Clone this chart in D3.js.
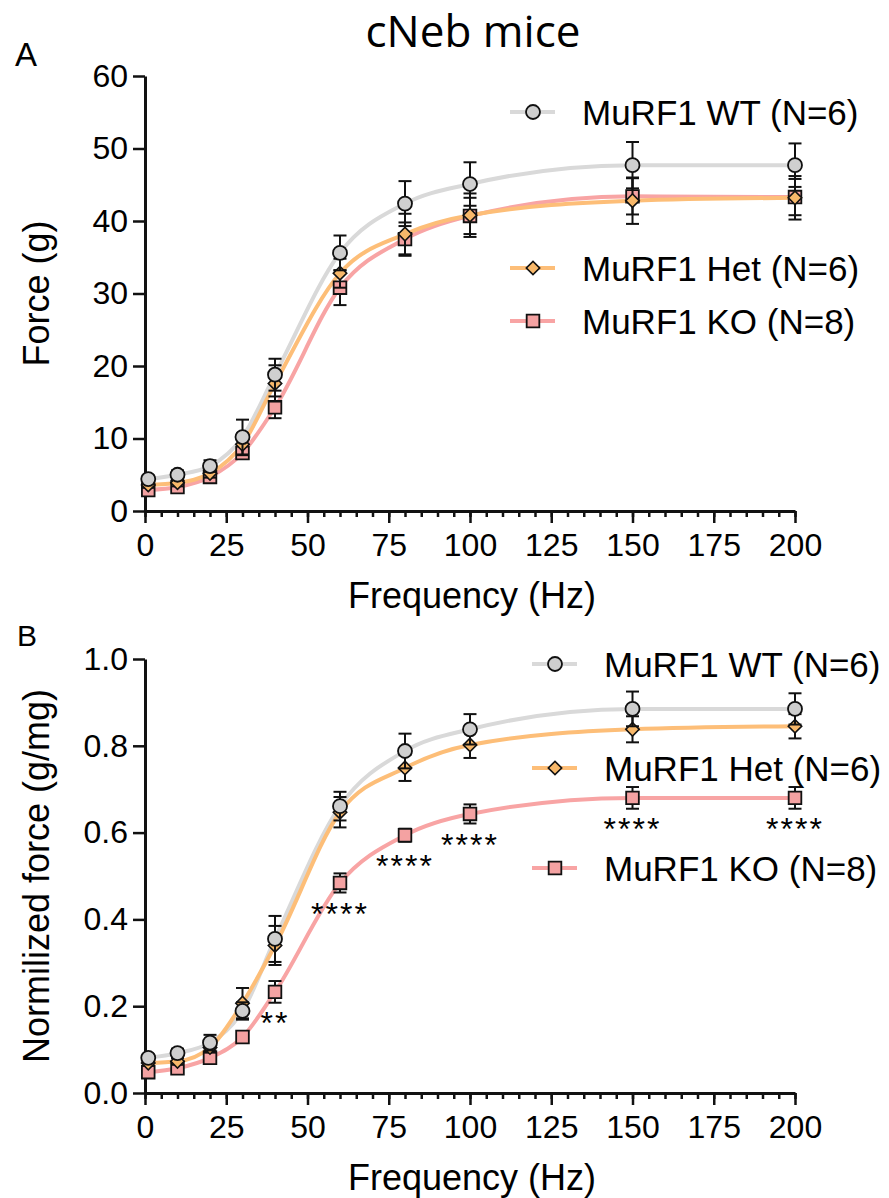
<!DOCTYPE html>
<html>
<head>
<meta charset="utf-8">
<script src="https://cdn.jsdelivr.net/npm/d3@7"></script>
<style>
  body { margin: 0; background: #fff; }
  svg { display: block; }
  text { font-family: "Liberation Sans", Arial, sans-serif; fill: #000; }
</style>
</head>
<body>
<svg id="chart"></svg>
<script>
// stimulation frequencies (Hz)
let freq = [1, 10, 20, 30, 40, 60, 80, 100, 150, 200];

// panel A: absolute force (g), mean and SEM
let wtForce     = [4.4, 5.0, 6.2, 10.2, 18.8, 35.6, 42.4, 45.1, 47.7, 47.7];
let wtForceErr  = [0.5, 0.6, 0.8, 2.4, 2.2, 2.4, 3.1, 3.0, 3.2, 3.0];
let hetForce    = [3.6, 3.9, 5.2, 9.2, 17.6, 32.8, 38.2, 40.8, 42.8, 43.2];
let hetForceErr = [0.4, 0.5, 0.6, 1.5, 2.5, 2.0, 2.8, 3.0, 3.2, 3.0];
let koForce     = [2.9, 3.3, 4.7, 8.0, 14.3, 30.8, 37.5, 40.7, 43.4, 43.3];
let koForceErr  = [0.3, 0.4, 0.5, 0.8, 1.5, 2.4, 2.3, 2.5, 2.5, 2.5];

// panel B: normalized force (g/mg), mean and SEM
let wtNorm     = [0.081, 0.092, 0.116, 0.189, 0.355, 0.661, 0.788, 0.838, 0.885, 0.885];
let wtNormErr  = [0.008, 0.010, 0.018, 0.020, 0.053, 0.033, 0.040, 0.035, 0.040, 0.036];
let hetNorm    = [0.069, 0.073, 0.105, 0.207, 0.340, 0.647, 0.749, 0.802, 0.838, 0.845];
let hetNormErr = [0.006, 0.008, 0.012, 0.035, 0.045, 0.035, 0.030, 0.030, 0.030, 0.028];
let koNorm     = [0.048, 0.057, 0.081, 0.129, 0.233, 0.484, 0.594, 0.643, 0.680, 0.680];
let koNormErr  = [0.004, 0.005, 0.006, 0.010, 0.025, 0.022, 0.015, 0.022, 0.025, 0.025];

// significance KO vs WT (panel B)
let sigFreq   = [40, 60, 80, 100, 150, 200];
let sigLabels = ["**", "****", "****", "****", "****", "****"];

let legendNames = ["MuRF1 WT (N=6)", "MuRF1 Het (N=6)", "MuRF1 KO (N=8)"];
let forceTicks = [0, 10, 20, 30, 40, 50, 60];
let normTicks = [0, 0.2, 0.4, 0.6, 0.8, 1.0];
let freqTicks = [0, 25, 50, 75, 100, 125, 150, 175, 200];

let width = 889;
let height = 1198;

let svg = d3.select('#chart').attr('width', width).attr('height', height);

let styles = [
  { line: '#d9d9d9', fill: '#cfcfcf', shape: 'circle' },
  { line: '#fdbe78', fill: '#f8b86a', shape: 'diamond' },
  { line: '#f8a4a4', fill: '#f4a2a2', shape: 'square' }
];

function marker(g, shape, x, y) {
  if (shape === 'circle') {
    g.append('circle').attr('cx', x).attr('cy', y).attr('r', 7)
      .attr('stroke', '#111').attr('stroke-width', 1.8);
  } else if (shape === 'square') {
    g.append('path')
      .attr('d', d3.symbol().type(d3.symbolSquare).size(160)())
      .attr('transform', 'translate(' + x + ',' + y + ')')
      .attr('stroke', '#111').attr('stroke-width', 1.8);
  } else {
    g.append('path')
      .attr('d', d3.symbol().type(d3.symbolSquare).size(90)())
      .attr('transform', 'translate(' + x + ',' + y + ') rotate(45)')
      .attr('stroke', '#111').attr('stroke-width', 1.6);
  }
}

function drawPanel(cfg) {
  let g = svg.append('g');
  let xScale = d3.scaleLinear().domain([0, 200]).range([145, 795]);
  let yScale = d3.scaleLinear().domain(cfg.yDomain).range([cfg.bottom, cfg.top]);

  // minor x ticks
  g.append('g')
    .attr('transform', 'translate(0,' + cfg.bottom + ')')
    .call(d3.axisBottom(xScale).tickValues(d3.range(0, 201, 5)).tickSize(6).tickSizeOuter(0).tickFormat(''))
    .call(a => a.select('.domain').remove());

  g.append('g')
    .attr('transform', 'translate(0,' + cfg.bottom + ')')
    .call(d3.axisBottom(xScale).tickValues(freqTicks).tickSize(12).tickSizeOuter(0).tickPadding(10));
  g.append('g')
    .attr('transform', 'translate(145,0)')
    .call(d3.axisLeft(yScale).tickValues(cfg.ticks).tickFormat(cfg.fmt).tickSize(12).tickSizeOuter(0).tickPadding(5));

  g.selectAll('.domain').attr('stroke', '#111').attr('stroke-width', 3);
  g.selectAll('.tick line').attr('stroke', '#111').attr('stroke-width', 2.5);
  g.selectAll('.tick text').style('font-size', '32px').attr('fill', '#111');

  // axis titles
  g.append('text')
    .attr('x', 472).attr('y', cfg.bottom + 97)
    .attr('text-anchor', 'middle')
    .style('font-size', '36px')
    .text('Frequency (Hz)');
  g.append('text')
    .attr('transform', 'translate(49,' + ((cfg.top + cfg.bottom) / 2) + ') rotate(-90)')
    .attr('text-anchor', 'middle')
    .style('font-size', '36px')
    .text(cfg.yTitle);

  // fitted lines
  let line = d3.line()
    .x(d => xScale(d[0]))
    .y(d => yScale(d[1]))
    .curve(d3.curveMonotoneX);
  [0, 2, 1].forEach(i => {
    g.append('path')
      .datum(freq.map((f, j) => [f, cfg.means[i][j]]))
      .attr('d', line)
      .attr('fill', 'none')
      .attr('stroke', styles[i].line)
      .attr('stroke-width', 4);
  });

  // error bars and markers, KO first so WT sits on top
  [2, 1, 0].forEach(i => {
    let s = g.append('g').attr('fill', styles[i].fill);
    freq.forEach((f, j) => {
      let x = xScale(f);
      let m = cfg.means[i][j];
      let e = cfg.errs[i][j];
      let y1 = yScale(m + e), y2 = yScale(m - e);
      let eb = s.append('g').attr('stroke', '#111').attr('stroke-width', 2);
      eb.append('line').attr('x1', x).attr('x2', x).attr('y1', y1).attr('y2', y2);
      eb.append('line').attr('x1', x - 6.5).attr('x2', x + 6.5).attr('y1', y1).attr('y2', y1);
      eb.append('line').attr('x1', x - 6.5).attr('x2', x + 6.5).attr('y1', y2).attr('y2', y2);
      marker(s, styles[i].shape, x, yScale(m));
    });
  });

  // legend
  cfg.legendY.forEach((ly, i) => {
    let lg = g.append('g').attr('fill', styles[i].fill);
    lg.append('line')
      .attr('x1', cfg.legendX).attr('x2', cfg.legendX + 45)
      .attr('y1', ly).attr('y2', ly)
      .attr('stroke', styles[i].line).attr('stroke-width', 4);
    marker(lg, styles[i].shape, cfg.legendX + 23, ly);
    lg.append('text')
      .attr('x', cfg.legendX + 72).attr('y', ly + 12.5)
      .style('font-size', '35px')
      .attr('fill', '#000')
      .text(legendNames[i]);
  });

  return { g: g, xScale: xScale, yScale: yScale };
}

drawPanel({
  yDomain: [0, 60], top: 76, bottom: 511,
  ticks: forceTicks, fmt: d3.format('d'),
  yTitle: 'Force (g)',
  means: [wtForce, hetForce, koForce],
  errs: [wtForceErr, hetForceErr, koForceErr],
  legendX: 510, legendY: [112, 268, 321]
});

let panelB = drawPanel({
  yDomain: [0, 1], top: 659, bottom: 1093,
  ticks: normTicks, fmt: d3.format('.1f'),
  yTitle: 'Normilized force (g/mg)',
  means: [wtNorm, hetNorm, koNorm],
  errs: [wtNormErr, hetNormErr, koNormErr],
  legendX: 532, legendY: [664, 768, 868]
});

// significance stars under KO points
sigFreq.forEach((f, i) => {
  let j = freq.indexOf(f);
  panelB.g.append('text')
    .attr('x', panelB.xScale(f))
    .attr('y', panelB.yScale(koNorm[j]) + 42)
    .attr('text-anchor', 'middle')
    .style('font-size', '32px')
    .style('letter-spacing', '2px')
    .text(sigLabels[i]);
});

// title and panel letters
svg.append('text')
  .attr('x', 473).attr('y', 47)
  .attr('text-anchor', 'middle')
  .style('font-family', '"Open Sans", sans-serif')
  .style('font-size', '44px')
  .text('cNeb mice');
svg.append('text').attr('x', 15).attr('y', 66).style('font-size', '33px').text('A');
svg.append('text').attr('x', 17).attr('y', 646).style('font-size', '30px').text('B');
</script>
</body>
</html>
